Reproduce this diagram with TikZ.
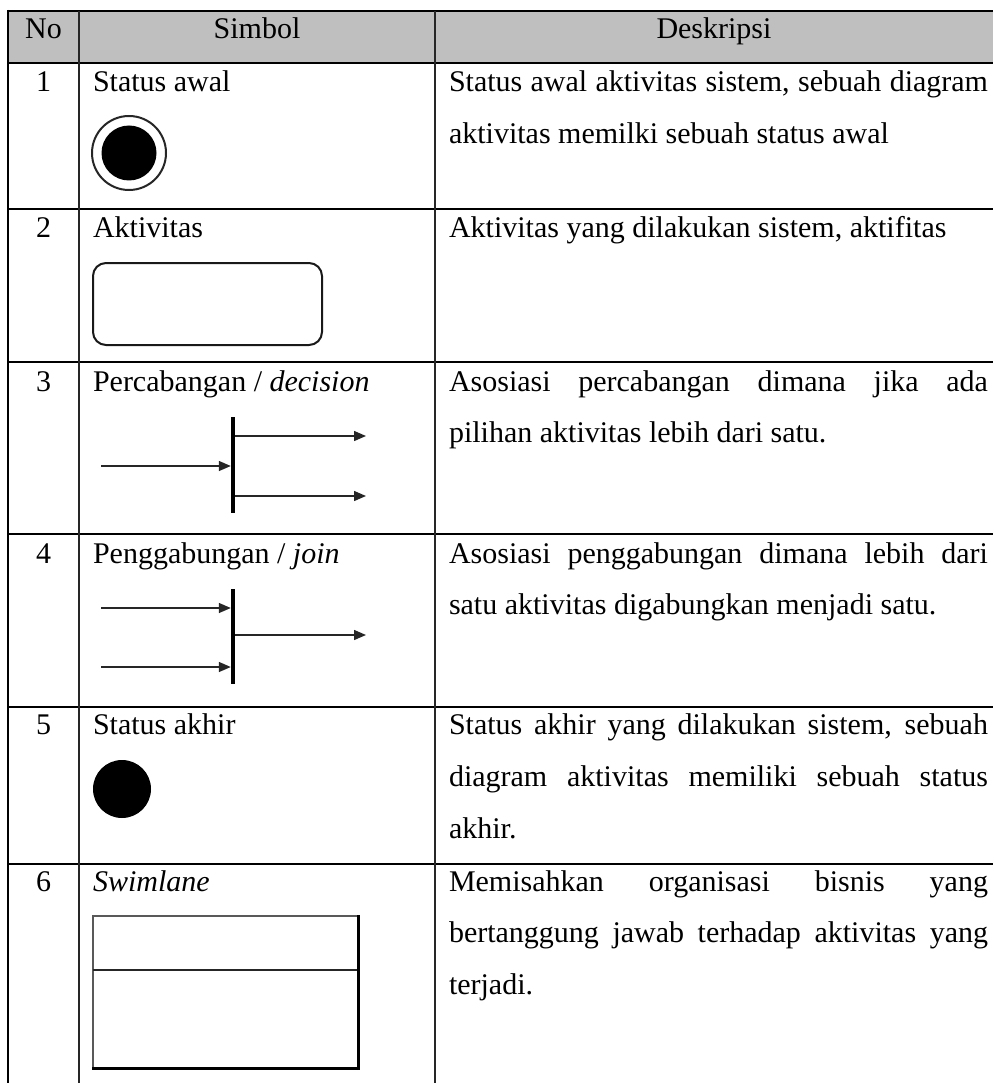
\documentclass[tikz,border=0pt]{standalone}
\usepackage{fontspec}
\setmainfont{Liberation Serif}
\usetikzlibrary{arrows.meta}
\begin{document}
\begin{tikzpicture}[x=1pt,y=-1pt,
  gridthick/.style={line width=2.4pt, black},
  gridthin/.style={line width=1.5pt, black!85},
  txt/.style={anchor=base west, inner sep=0pt, outer sep=0pt, font=\fontsize{30}{36}\selectfont},
  ctxt/.style={anchor=base, inner sep=0pt, outer sep=0pt, font=\fontsize{30}{36}\selectfont},
  flow/.style={line width=1.4pt, draw=black!85, -{Triangle[length=12pt,width=10pt]}},
  barnode/.style={fill=black, inner sep=0pt, minimum width=4pt},
  dotnode/.style={circle, fill=black, inner sep=0pt}
]
\useasboundingbox (0,0) rectangle (993,1083);
% header fill
\fill[gray!50] (8,11) rectangle (993,63);
% horizontal rules
\foreach \yy in {11,63,209,362,534,707,864}
  \draw[gridthick] (8,\yy) -- (993,\yy);
% vertical rules
\draw[line width=2.6pt] (8,9.8) -- (8,1083);
\draw[gridthin] (79,11) -- (79,1083);
\draw[gridthin] (435,11) -- (435,1083);

% header
\node[ctxt] (hno) at (43.5,39) {No};
\node[ctxt] (hsim) at (257,39) {Simbol};
\node[ctxt] (hdes) at (714,39) {Deskripsi};

% numbers
\node[ctxt] (n1) at (43.5,92) {1};
\node[ctxt] (n2) at (43.5,237) {2};
\node[ctxt] (n3) at (43.5,391) {3};
\node[ctxt] (n4) at (43.5,563) {4};
\node[ctxt] (n5) at (43.5,734) {5};
\node[ctxt] (n6) at (43.5,891) {6};

% symbol labels
\node[txt] (s1) at (93,92) {Status awal};
\node[txt] (s2) at (93,237) {Aktivitas};
\node[txt] (s3) at (93,391) {Percabangan / \textit{decision}};
\node[txt] (s4) at (93,563) {Penggabungan / \textit{join}};
\node[txt] (s5) at (93,734) {Status akhir};
\node[txt] (s6) at (93,891) {\textit{Swimlane}};

% descriptions
\node[txt] (d1a) at (449,92) {\makebox[539pt][s]{Status awal aktivitas sistem, sebuah diagram}};
\node[txt] (d1b) at (449,143.5) {aktivitas memilki sebuah status awal};
\node[txt] (d2a) at (449,237) {Aktivitas yang dilakukan sistem, aktifitas};
\node[txt] (d3a) at (449,391) {\makebox[539pt][s]{Asosiasi percabangan dimana jika ada}};
\node[txt] (d3b) at (449,442) {pilihan aktivitas lebih dari satu.};
\node[txt] (d4a) at (449,563) {\makebox[539pt][s]{Asosiasi penggabungan dimana lebih dari}};
\node[txt] (d4b) at (449,614) {satu aktivitas digabungkan menjadi satu.};
\node[txt] (d5a) at (449,734) {\makebox[539pt][s]{Status akhir yang dilakukan sistem, sebuah}};
\node[txt] (d5b) at (449,786) {\makebox[539pt][s]{diagram aktivitas memiliki sebuah status}};
\node[txt] (d5c) at (449,838) {akhir.};
\node[txt] (d6a) at (449,891) {\makebox[539pt][s]{Memisahkan organisasi bisnis yang}};
\node[txt] (d6b) at (449,942) {\makebox[539pt][s]{bertanggung jawab terhadap aktivitas yang}};
\node[txt] (d6c) at (449,994) {terjadi.};

% 1: initial state
\node[circle, draw=black!85, line width=2pt, minimum size=74pt, inner sep=0pt] (initring) at (129,153) {};
\node[dotnode, minimum size=55pt] (initdot) at (129,153) {};

% 2: activity
\node[draw=black!90, line width=2pt, rounded corners=13pt, minimum width=229pt, minimum height=82pt, inner sep=0pt] (act) at (207.5,304) {};

% 3: decision (fork)
\node[barnode, minimum height=96pt] (fork) at (233,465) {};
\coordinate (fin) at (101,466);
\coordinate (fo1) at (366,436);
\coordinate (fo2) at (366,496);
\draw[flow] (fin) -- (fin -| fork.west);
\draw[flow] (fork.east |- fo1) -- (fo1);
\draw[flow] (fork.east |- fo2) -- (fo2);

% 4: join
\node[barnode, minimum height=95pt] (join) at (233,636.5) {};
\coordinate (ji1) at (101,608);
\coordinate (ji2) at (101,667);
\coordinate (jo) at (366,635);
\draw[flow] (ji1) -- (ji1 -| join.west);
\draw[flow] (ji2) -- (ji2 -| join.west);
\draw[flow] (join.east |- jo) -- (jo);

% 5: final state
\node[dotnode, minimum size=58pt] (final) at (122,789) {};

% 6: swimlane
\node[draw=black!65, line width=1.3pt, minimum width=265pt, minimum height=152pt, inner sep=0pt] (swim) at (225.5,992) {};
\coordinate (swdiv) at (93,970);
\draw[line width=1.5pt, black!85] (swdiv) -- (swdiv -| swim.east);
\draw[line width=2.4pt, black] (swim.north east) -- (swim.south east) -- (swim.south west);
\end{tikzpicture}
\end{document}
